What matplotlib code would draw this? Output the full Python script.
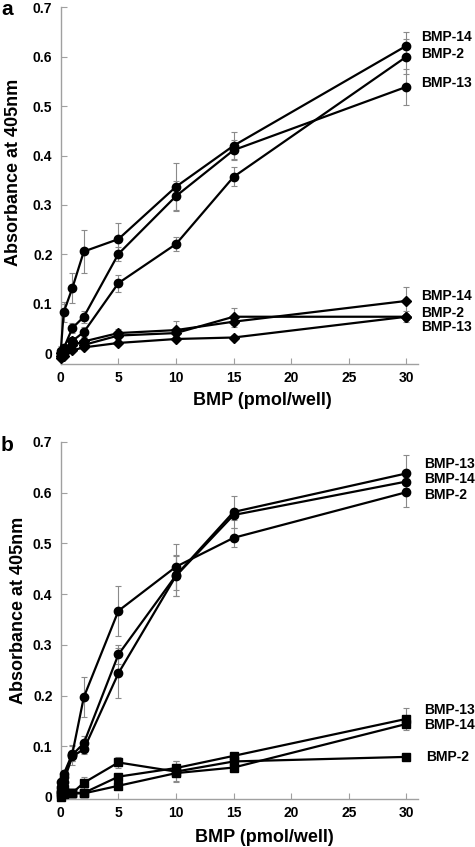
import matplotlib
matplotlib.use("Agg")
import matplotlib.pyplot as plt

plt.rcParams["font.family"] = ["Liberation Sans", "DejaVu Sans"]
plt.rcParams["font.weight"] = "bold"

# BMP dose (pmol/well)
dose = [0, 0.25, 1, 2, 5, 10, 15, 30]

# panel a - circles
a_c14 = [0.005, 0.083, 0.132, 0.206, 0.231, 0.337, 0.420, 0.622]
a_c14_err = [0.01, 0.02, 0.03, 0.044, 0.032, 0.048, 0.028, 0.027]
a_c13 = [0.0, 0.01, 0.051, 0.074, 0.201, 0.318, 0.411, 0.539]
a_c13_err = [0.005, 0.008, 0.01, 0.012, 0.014, 0.03, 0.02, 0.037]
a_c2 = [-0.005, 0.005, 0.025, 0.043, 0.142, 0.221, 0.357, 0.600]
a_c2_err = [0.005, 0.005, 0.008, 0.01, 0.017, 0.014, 0.019, 0.035]

# panel a - diamonds
a_d14 = [0.0, 0.005, 0.016, 0.024, 0.041, 0.047, 0.064, 0.106]
a_d14_err = [0.005, 0.005, 0.006, 0.006, 0.008, 0.019, 0.01, 0.029]
a_d2 = [-0.005, 0.0, 0.025, 0.017, 0.036, 0.041, 0.074, 0.074]
a_d2_err = [0.004, 0.004, 0.005, 0.005, 0.006, 0.006, 0.017, 0.011]
a_d13 = [-0.01, -0.005, 0.006, 0.012, 0.021, 0.029, 0.032, 0.074]
a_d13_err = [0.004, 0.004, 0.004, 0.004, 0.005, 0.005, 0.005, 0.006]

# panel b - circles
b_c13 = [0.02, 0.04, 0.083, 0.106, 0.281, 0.437, 0.562, 0.638]
b_c13_err = [0.005, 0.008, 0.02, 0.015, 0.019, 0.04, 0.032, 0.037]
b_c14 = [0.01, 0.03, 0.080, 0.094, 0.244, 0.436, 0.556, 0.622]
b_c14_err = [0.005, 0.006, 0.01, 0.01, 0.049, 0.04, 0.01, 0.012]
b_c2 = [0.03, 0.045, 0.085, 0.197, 0.367, 0.454, 0.511, 0.601]
b_c2_err = [0.005, 0.008, 0.015, 0.039, 0.049, 0.045, 0.019, 0.03]

# panel b - squares
b_s13 = [0.01, 0.015, 0.008, 0.008, 0.040, 0.057, 0.081, 0.154]
b_s13_err = [0.003, 0.003, 0.003, 0.003, 0.006, 0.014, 0.006, 0.022]
b_s14 = [0.0, 0.005, 0.007, 0.007, 0.022, 0.047, 0.058, 0.144]
b_s14_err = [0.003, 0.003, 0.003, 0.003, 0.005, 0.015, 0.005, 0.006]
b_s2 = [0.005, 0.01, 0.008, 0.028, 0.068, 0.050, 0.070, 0.079]
b_s2_err = [0.003, 0.003, 0.003, 0.012, 0.01, 0.02, 0.005, 0.004]

# labels at the right hand side, with their heights
a_names = ["BMP-14", "BMP-2", "BMP-13", "BMP-14", "BMP-2", "BMP-13"]
a_label_y = [0.640, 0.606, 0.546, 0.115, 0.081, 0.053]
b_names = ["BMP-13", "BMP-14", "BMP-2", "BMP-13", "BMP-14", "BMP-2"]
b_label_y = [0.656, 0.627, 0.596, 0.172, 0.141, 0.079]
b_label_x = [31.5, 31.5, 31.5, 31.5, 31.5, 31.7]

yticks = [0, 0.1, 0.2, 0.3, 0.4, 0.5, 0.6, 0.7]
ytick_labels = ["0", "0.1", "0.2", "0.3", "0.4", "0.5", "0.6", "0.7"]
xticks = [0, 5, 10, 15, 20, 25, 30]

axis_gray = "#a0a0a0"
err_gray = "#8a8a8a"


def draw_series(ax, y, err, marker, ms):
    ax.errorbar(dose, y, yerr=err, fmt="none", ecolor=err_gray, elinewidth=0.8,
                capsize=2, capthick=0.8, zorder=2, clip_on=False)
    ax.plot(dose, y, color="black", lw=1.6, marker=marker, ms=ms,
            mfc="black", mec="black", zorder=3, clip_on=False)


def style_axis(ax, ymin):
    ax.set_xlim(0, 31)
    ax.set_ylim(ymin, 0.7)
    for s in ["top", "right"]:
        ax.spines[s].set_visible(False)
    for s in ["left", "bottom"]:
        ax.spines[s].set_color(axis_gray)
        ax.spines[s].set_linewidth(1.0)
    ax.set_yticks(yticks)
    ax.set_yticklabels(ytick_labels)
    ax.set_xticks(xticks)
    ax.tick_params(direction="in", color=axis_gray, length=4, width=0.8,
                   labelsize=10, pad=6)
    ax.tick_params(axis="x", pad=5)
    for lab in ax.get_xticklabels() + ax.get_yticklabels():
        lab.set_fontweight("bold")
    ax.set_xlabel("BMP (pmol/well)", fontsize=13, fontweight="bold")
    ax.set_ylabel("Absorbance at 405nm", fontsize=13, fontweight="bold")


fig = plt.figure(figsize=(4.75, 8.47), dpi=100)

# a - top panel
ax_a = fig.add_axes([0.128, 0.570, 0.752, 0.4215])
draw_series(ax_a, a_c14, a_c14_err, "o", 6)
draw_series(ax_a, a_c13, a_c13_err, "o", 6)
draw_series(ax_a, a_c2, a_c2_err, "o", 6)
draw_series(ax_a, a_d14, a_d14_err, "D", 5)
draw_series(ax_a, a_d2, a_d2_err, "D", 5)
draw_series(ax_a, a_d13, a_d13_err, "D", 5)
style_axis(ax_a, -0.022)
ax_a.xaxis.set_label_coords(0.563, -0.078)
ax_a.yaxis.set_label_coords(-0.11, 0.538)
for name, ly in zip(a_names, a_label_y):
    ax_a.text(31.3, ly, name, fontsize=10, fontweight="bold", va="center",
              ha="left", clip_on=False)
fig.text(0.002, 0.9825, "a", fontsize=15, fontweight="bold", va="baseline", ha="left")

# b - bottom panel
ax_b = fig.add_axes([0.128, 0.0567, 0.752, 0.4215])
draw_series(ax_b, b_c13, b_c13_err, "o", 6)
draw_series(ax_b, b_c14, b_c14_err, "o", 6)
draw_series(ax_b, b_c2, b_c2_err, "o", 6)
draw_series(ax_b, b_s13, b_s13_err, "s", 6)
draw_series(ax_b, b_s14, b_s14_err, "s", 6)
draw_series(ax_b, b_s2, b_s2_err, "s", 6)
style_axis(ax_b, -0.004)
ax_b.xaxis.set_label_coords(0.57, -0.084)
ax_b.yaxis.set_label_coords(-0.095, 0.529)
for name, lx, ly in zip(b_names, b_label_x, b_label_y):
    ax_b.text(lx, ly, name, fontsize=10, fontweight="bold", va="center",
              ha="left", clip_on=False)
fig.text(0.002, 0.468, "b", fontsize=15, fontweight="bold", va="baseline", ha="left")

fig.savefig("out.png", dpi=100)
